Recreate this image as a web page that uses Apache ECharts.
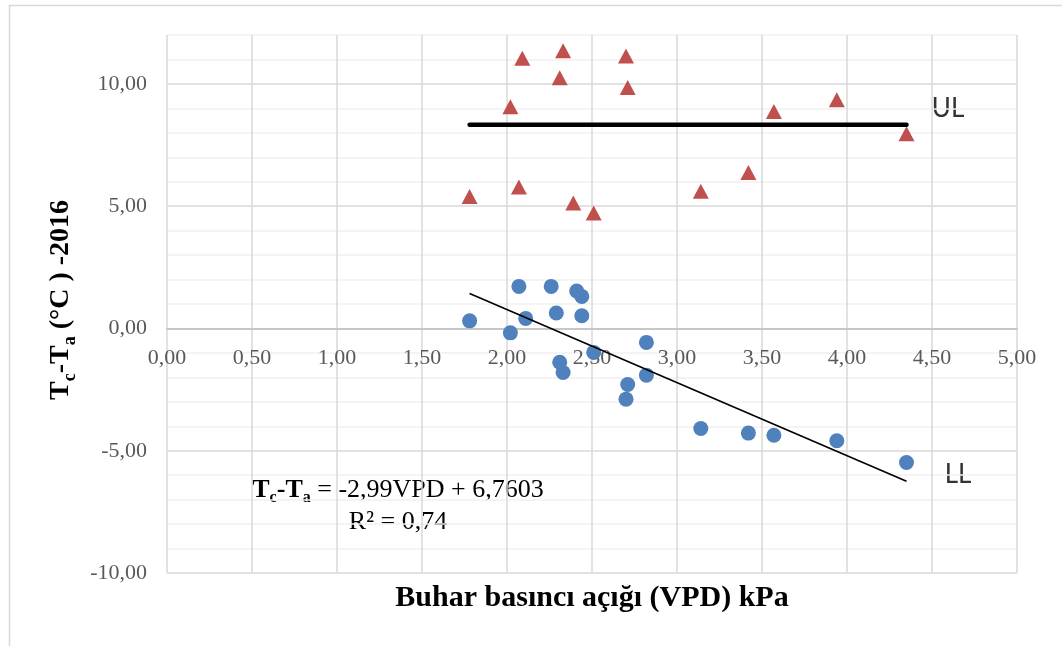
<!DOCTYPE html>
<html>
<head>
<meta charset="utf-8">
<script src="https://cdn.jsdelivr.net/npm/echarts@6/dist/echarts.min.js"></script>
<style>
html,body{margin:0;padding:0;background:#fff;}
#chart{width:1062px;height:646px;}
</style>
</head>
<body>
<div id="chart"></div>
<script>
// Upper (non-stressed) points: VPD (kPa) and Tc-Ta (°C)
const upperVPD = [2.09, 2.33, 2.70, 2.31, 2.71, 2.02, 3.57, 3.94, 4.35, 1.78, 2.07, 2.39, 2.51, 3.14, 3.42];
const upperTd  = [11.05, 11.36, 11.14, 10.25, 9.85, 9.07, 8.87, 9.35, 7.96, 5.40, 5.78, 5.13, 4.72, 5.61, 6.38];
// Lower (well-watered) points
const lowerVPD = [2.07, 2.26, 2.41, 2.44, 1.78, 2.11, 2.29, 2.44, 2.02, 2.82, 2.51, 2.31, 2.33, 2.82, 2.71, 2.70, 3.14, 3.42, 3.57, 3.94, 4.35];
const lowerTd  = [1.72, 1.72, 1.53, 1.31, 0.31, 0.41, 0.63, 0.52, -0.18, -0.57, -0.98, -1.38, -1.80, -1.91, -2.29, -2.89, -4.09, -4.28, -4.37, -4.59, -5.48];
// UL line and LL regression line end points
const ulLineVPD = [1.78, 4.35];
const ulLineTd  = [8.33, 8.33];
const llLineVPD = [1.78, 4.35];
const llLineTd  = [1.43, -6.25];
// Axis ranges
const xMin = 0, xMax = 5, xStep = 0.5;
const yMin = -10, yMax = 12, yStep = 1, yLabelStep = 5;

const zip = (a, b) => a.map((v, i) => [v, b[i]]);
const fmt = v => v.toFixed(2).replace('.', ',');

const W = 1062, H = 646;
const gridL = 167, gridR = 45, gridT = 35, gridB = 73;
const gridH = H - gridT - gridB;
const zeroOffset = -gridH * (0 - yMin) / (yMax - yMin);

const chart = echarts.init(document.getElementById('chart'), null, {renderer: 'canvas'});
const serif = 'Liberation Serif';

chart.setOption({
  animation: false,
  backgroundColor: '#ffffff',
  grid: {left: gridL, right: gridR, top: gridT, bottom: gridB, containLabel: false},
  xAxis: {
    type: 'value', min: xMin, max: xMax, interval: xStep,
    position: 'bottom', offset: zeroOffset,
    axisLine: {show: true, onZero: false, lineStyle: {color: '#bfbfbf', width: 1.5}},
    axisTick: {show: false},
    axisLabel: {formatter: fmt, fontFamily: serif, fontSize: 22, color: '#595959', margin: 19},
    splitLine: {show: true, lineStyle: {color: '#d9d9d9', width: 1.5}}
  },
  yAxis: {
    type: 'value', min: yMin, max: yMax, interval: yStep,
    axisLine: {show: false},
    axisTick: {show: false},
    axisLabel: {
      formatter: v => (Math.abs(v % yLabelStep) < 1e-9 && v <= 10) ? fmt(v) : '',
      fontFamily: serif, fontSize: 22, color: '#595959', margin: 20
    },
    splitLine: {show: true, lineStyle: {color: ['#d9d9d9', '#f0f0f0', '#f0f0f0', '#f0f0f0', '#f0f0f0'], width: 1.5}}
  },
  series: [
    {
      type: 'scatter', name: 'upper', data: zip(upperVPD, upperTd),
      symbol: 'triangle', symbolSize: [16, 15],
      itemStyle: {color: '#C0504D', opacity: 1}, z: 3
    },
    {
      type: 'scatter', name: 'lower', data: zip(lowerVPD, lowerTd),
      symbol: 'circle', symbolSize: 15,
      itemStyle: {color: '#4F81BD', opacity: 1}, z: 3
    },
    {
      type: 'line', name: 'UL', data: zip(ulLineVPD, ulLineTd),
      showSymbol: false, symbol: 'none',
      lineStyle: {color: '#000', width: 4.5, cap: 'round'}, z: 4
    },
    {
      type: 'line', name: 'LL', data: zip(llLineVPD, llLineTd),
      showSymbol: false, symbol: 'none',
      lineStyle: {color: '#000', width: 1.6}, z: 4
    }
  ],
  graphic: [
    {type: 'rect', z: -10, silent: true, shape: {x: 9.5, y: 5.5, width: 1200, height: 800},
     style: {fill: 'none', stroke: '#d9d9d9', lineWidth: 1.5}},
    {type: 'text', x: 948, y: 109, style: {text: 'UL', fontFamily: 'Lato', fontSize: 26, fill: '#333', stroke: null, lineWidth: 0, textAlign: 'center', textVerticalAlign: 'middle'}},
    {type: 'text', x: 958, y: 475, style: {text: 'LL', fontFamily: 'Lato', fontSize: 26, fill: '#333', stroke: null, lineWidth: 0, textAlign: 'center', textVerticalAlign: 'middle'}},
    {type: 'text', x: 398, y: 490, style: {
      text: '{b|T}{bs|c}{b|-T}{bs|a}{n| = -2,99VPD + 6,7603}',
      textAlign: 'center', textVerticalAlign: 'middle', stroke: null, lineWidth: 0,
      rich: {
        b: {fontFamily: serif, fontWeight: 'bold', fontSize: 26, lineHeight: 32, verticalAlign: 'middle', fill: '#000'},
        bs: {fontFamily: serif, fontWeight: 'bold', fontSize: 16, lineHeight: 16, verticalAlign: 'bottom', fill: '#000'},
        n: {fontFamily: serif, fontSize: 26, lineHeight: 32, verticalAlign: 'middle', fill: '#000'}
      }
    }},
    {type: 'text', x: 398, y: 522, style: {text: 'R² = 0,74', fontFamily: serif, fontSize: 26, fill: '#000', stroke: null, lineWidth: 0, textAlign: 'center', textVerticalAlign: 'middle'}},
    {type: 'text', x: 592, y: 598, style: {text: 'Buhar basıncı açığı (VPD) kPa', fontFamily: serif, fontWeight: 'bold', fontSize: 30, fill: '#000', stroke: null, lineWidth: 0, textAlign: 'center', textVerticalAlign: 'middle'}},
    {type: 'text', x: 61, y: 300, rotation: Math.PI / 2, style: {
      text: '{b|T}{bs|c}{b|-T}{bs|a}{b| (°C ) -2016}',
      textAlign: 'center', textVerticalAlign: 'middle', stroke: null, lineWidth: 0,
      rich: {
        b: {fontFamily: serif, fontWeight: 'bold', fontSize: 28, lineHeight: 36, verticalAlign: 'middle', fill: '#000'},
        bs: {fontFamily: serif, fontWeight: 'bold', fontSize: 18, lineHeight: 18, verticalAlign: 'bottom', fill: '#000'}
      }
    }}
  ]
});
</script>
</body>
</html>
